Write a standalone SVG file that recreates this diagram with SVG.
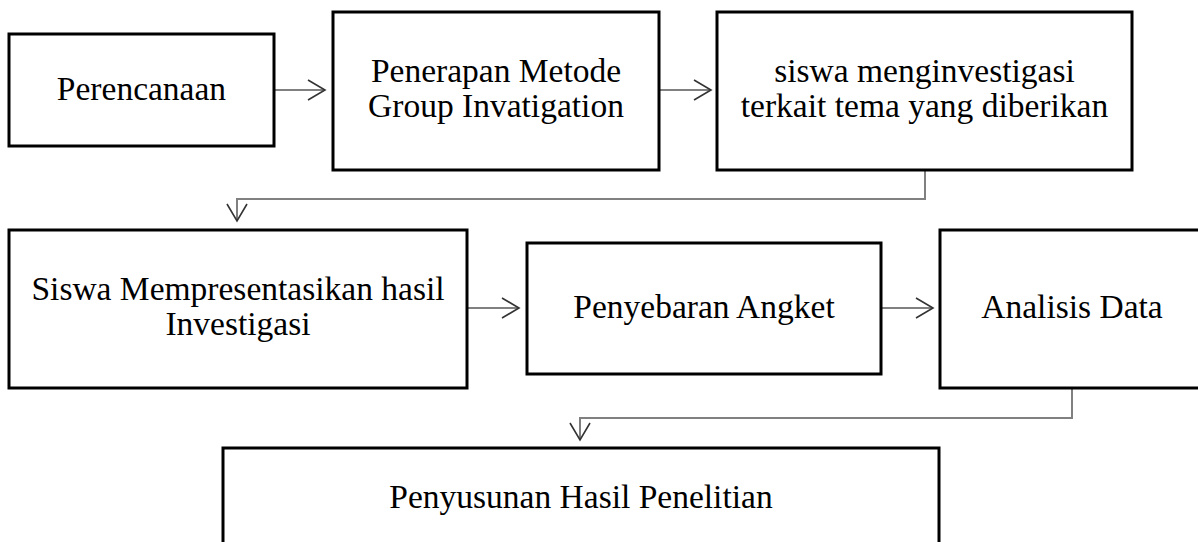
<svg xmlns="http://www.w3.org/2000/svg" width="1198" height="542" viewBox="0 0 1198 542">
<style>
.box{fill:#fff;stroke:#000;stroke-width:3}
.t{font-family:"Liberation Serif","Times New Roman",serif;font-size:33.5px;fill:#000;text-anchor:middle}
.c{fill:none;stroke:#808080;stroke-width:2}
</style>
<defs>
<marker id="ah" markerUnits="userSpaceOnUse" markerWidth="24" markerHeight="24" viewBox="-20 -12 24 24" refX="0" refY="0" orient="auto">
<path d="M -17 -10 L 0 0 L -17 10" fill="none" stroke="#333" stroke-width="1.6"/>
</marker>
</defs>
<rect width="1198" height="542" fill="#fff"/>
<g id="connectors">
<path class="c" d="M 274 90 L 325 90" marker-end="url(#ah)"/>
<path class="c" d="M 659 90 L 711 90" marker-end="url(#ah)"/>
<path class="c" d="M 925 170 L 925 199 L 237 199 L 237 221" marker-end="url(#ah)"/>
<path class="c" d="M 467 308 L 519 308" marker-end="url(#ah)"/>
<path class="c" d="M 881 308 L 933 308" marker-end="url(#ah)"/>
<path class="c" d="M 1072 388 L 1072 418 L 580 418 L 580 440" marker-end="url(#ah)"/>
</g>
<g id="n1"><rect class="box" x="9" y="34" width="265" height="112"/><text class="t" x="141.5" y="100">Perencanaan</text></g>
<g id="n2"><rect class="box" x="333" y="12" width="326" height="158"/><text class="t" x="496" y="82">Penerapan Metode</text><text class="t" x="496" y="117">Group Invatigation</text></g>
<g id="n3"><rect class="box" x="717" y="12" width="415" height="158"/><text class="t" x="924.5" y="82">siswa menginvestigasi</text><text class="t" x="924.5" y="117">terkait tema yang diberikan</text></g>
<g id="n4"><rect class="box" x="9" y="230" width="458" height="158"/><text class="t" x="238" y="300">Siswa Mempresentasikan hasil</text><text class="t" x="238" y="335">Investigasi</text></g>
<g id="n5"><rect class="box" x="527" y="243" width="354" height="131"/><text class="t" x="704" y="318">Penyebaran Angket</text></g>
<g id="n6"><rect class="box" x="940" y="230" width="264" height="158"/><text class="t" x="1072" y="318">Analisis Data</text></g>
<g id="n7"><rect class="box" x="223" y="448" width="716" height="120"/><text class="t" x="581" y="508">Penyusunan Hasil Penelitian</text></g>
</svg>
